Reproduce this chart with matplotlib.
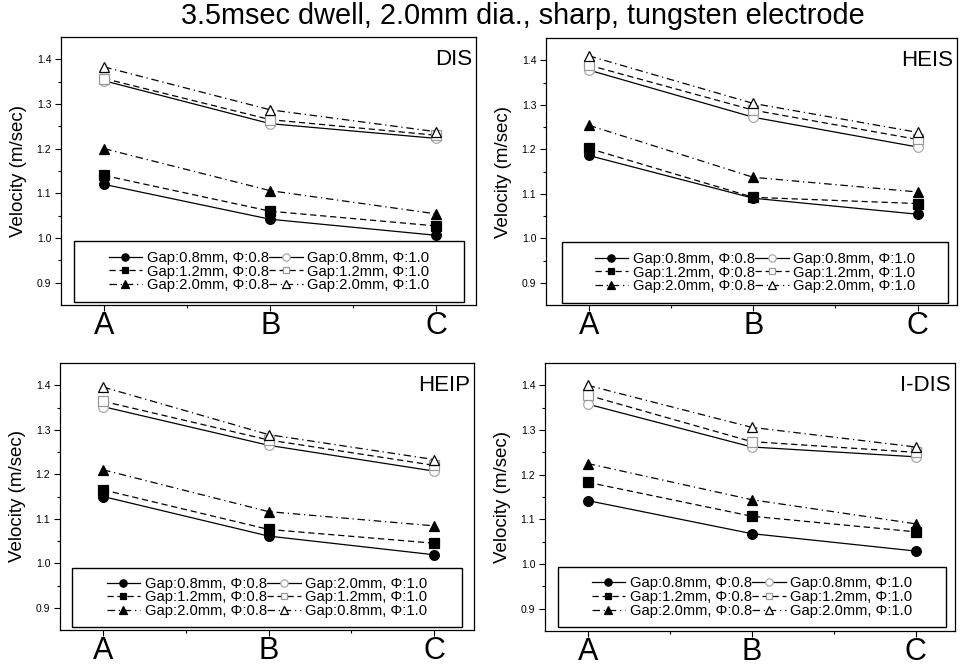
import matplotlib
matplotlib.use("Agg")
import matplotlib.pyplot as plt
from matplotlib.patches import Rectangle

plt.rcParams['font.family'] = ['Liberation Sans', 'DejaVu Sans']

points = ["A", "B", "C"]
title = "3.5msec dwell, 2.0mm dia., sharp, tungsten electrode"

# velocity (m/sec) per panel, series order:
# gap0.8/phi0.8, gap1.2/phi0.8, gap2.0/phi0.8, gap0.8/phi1.0, gap1.2/phi1.0, gap2.0/phi1.0
dis = [[1.12, 1.042, 1.006], [1.14, 1.06, 1.027], [1.20, 1.106, 1.054],
       [1.352, 1.256, 1.223], [1.357, 1.265, 1.230], [1.383, 1.287, 1.238]]
heis = [[1.186, 1.090, 1.054], [1.202, 1.092, 1.078], [1.254, 1.137, 1.104],
        [1.378, 1.272, 1.205], [1.389, 1.288, 1.222], [1.410, 1.303, 1.238]]
heip = [[1.150, 1.061, 1.019], [1.165, 1.076, 1.045], [1.210, 1.116, 1.084],
        [1.352, 1.265, 1.207], [1.364, 1.277, 1.220], [1.396, 1.289, 1.233]]
idis = [[1.142, 1.068, 1.029], [1.183, 1.107, 1.072], [1.225, 1.144, 1.090],
        [1.358, 1.262, 1.240], [1.378, 1.274, 1.250], [1.400, 1.306, 1.262]]

labels_std = ["Gap:0.8mm, \u03a6:0.8", "Gap:1.2mm, \u03a6:0.8", "Gap:2.0mm, \u03a6:0.8",
              "Gap:0.8mm, \u03a6:1.0", "Gap:1.2mm, \u03a6:1.0", "Gap:2.0mm, \u03a6:1.0"]
labels_heip = ["Gap:0.8mm, \u03a6:0.8", "Gap:1.2mm, \u03a6:0.8", "Gap:2.0mm, \u03a6:0.8",
               "Gap:2.0mm, \u03a6:1.0", "Gap:1.2mm, \u03a6:1.0", "Gap:0.8mm, \u03a6:1.0"]

panels = [("DIS", dis, labels_std), ("HEIS", heis, labels_std),
          ("HEIP", heip, labels_heip), ("I-DIS", idis, labels_std)]

# axes boxes in pixels: left, top, right, bottom
boxes = [(61, 37, 476, 305), (546, 38, 957, 305),
         (60, 363, 474, 630), (545, 363, 955, 631)]
# legend frames in pixels: left, top, right, bottom
legboxes = [(74, 241, 464, 302), (562, 242, 948, 303),
            (72, 568, 462, 627), (558, 567, 946, 627)]

styles = [
    dict(ls="-", marker="o", mfc="black", mec="black", ms=7),
    dict(ls=(0, (5, 3)), marker="s", mfc="black", mec="black", ms=6.5),
    dict(ls=(0, (6, 3, 1, 3)), marker="^", mfc="black", mec="black", ms=7),
    dict(ls="-", marker="o", mfc="white", mec="#aaaaaa", ms=7),
    dict(ls=(0, (5, 3)), marker="s", mfc="white", mec="#999999", ms=6.5),
    dict(ls=(0, (6, 3, 1, 3)), marker="^", mfc="white", mec="black", ms=7.5),
]

W, H = 960, 668
fig = plt.figure(figsize=(W / 100, H / 100), dpi=100)

for (name, data, labels), (l, t, r, b), (ll, lt, lr, lb) in zip(panels, boxes, legboxes):
    ax = fig.add_axes([l / W, 1 - b / H, (r - l) / W, (b - t) / H])
    x = range(len(points))
    for vals, lab, st in zip(data, labels, styles):
        ax.plot(x, vals, color="black", lw=0.9, mew=0.9, label=lab, **st)
    ax.set_xlim(-0.26, 2.24)
    ax.set_ylim(0.85, 1.45)
    ax.set_xticks(list(x))
    ax.set_xticklabels(points, fontsize=22)
    ax.set_xticks([0.5, 1.5], minor=True)
    ax.set_yticks([0.9, 1.0, 1.1, 1.2, 1.3, 1.4])
    ax.set_yticklabels(["0.9", "1.0", "1.1", "1.2", "1.3", "1.4"], fontsize=7.5)
    ax.set_yticks([0.95, 1.05, 1.15, 1.25, 1.35], minor=True)
    ax.tick_params(axis="x", which="major", length=4, width=0.8, pad=0.5)
    ax.tick_params(axis="both", which="minor", length=2.5, width=0.8)
    ax.tick_params(axis="y", which="major", length=4, width=0.8, pad=3)
    for s in ax.spines.values():
        s.set_linewidth(0.9)
    ax.set_ylabel("Velocity (m/sec)", fontsize=13.5, labelpad=7)
    ax.text(0.99, 0.955, name, transform=ax.transAxes, ha="right", va="top",
            fontsize=16)
    # legend frame
    fx0 = (ll - l) / (r - l)
    fy0 = (b - lb) / (b - t)
    fw = (lr - ll) / (r - l)
    fh = (lb - lt) / (b - t)
    ax.add_patch(Rectangle((fx0, fy0), fw, fh, transform=ax.transAxes,
                           facecolor="white", edgecolor="black", lw=1.0, zorder=4))
    leg = ax.legend(ncol=2, loc="center", bbox_to_anchor=(fx0 + fw / 2, fy0 + fh / 2),
                    fontsize=10.6, frameon=False, markerscale=0.75,
                    handlelength=2.3, handletextpad=0.3, columnspacing=0.0,
                    labelspacing=-0.02, borderpad=0, borderaxespad=0)
    leg.set_zorder(5)

fig.text(0.545, 0.976, title, ha="center", va="center", fontsize=20.8)

fig.savefig("out.png", dpi=100)
